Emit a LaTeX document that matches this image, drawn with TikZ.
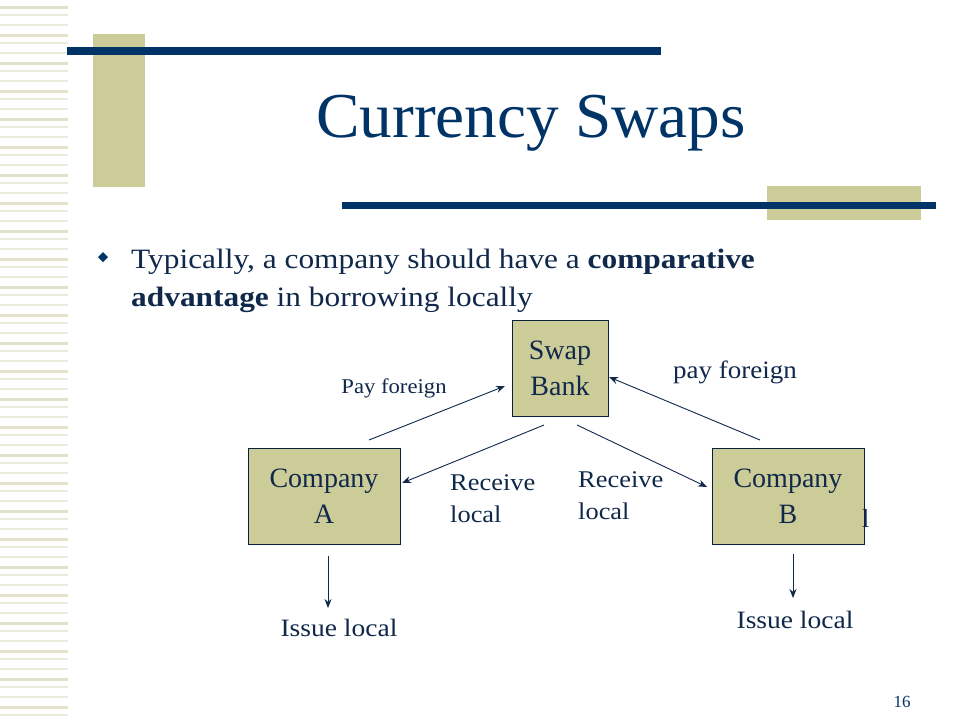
\documentclass[tikz,border=0pt]{standalone}
\usepackage{fontspec}
\setmainfont{Liberation Serif}
\usetikzlibrary{arrows.meta}
\definecolor{navy}{HTML}{003366}
\definecolor{olive}{HTML}{CCCC99}
\definecolor{ink}{HTML}{10284A}
\definecolor{stripe}{HTML}{E2E2CC}
\tikzset{
  box/.style={draw=ink!80!black, line width=0.8pt, fill=olive, minimum width=152pt, minimum height=96pt, inner sep=0pt, align=center, font=\fontsize{28}{36}\selectfont, text=ink},
  conn/.style={draw=ink, line width=0.9pt, -{Stealth[length=9pt,width=7pt]}},
  lbl/.style={text=ink, align=left, inner sep=0pt}
}
\begin{document}
\begin{tikzpicture}[x=1pt,y=-1pt]
\useasboundingbox (0,0) rectangle (960,720);
\fill[white] (0,0) rectangle (960,720);
\foreach \y in {6,34,62,90,118,146,174,202,230,258,286,314,342,370,398,426,454,482,510,538,566,594,622,650,678,706}{
  \fill[stripe] (0,\y) rectangle (68,\y+3);
  \fill[stripe!70] (0,\y+8) rectangle (68,\y+9.5);
  \fill[stripe!70] (0,\y+18) rectangle (68,\y+19.5);
}
\fill[olive] (93,34) rectangle (145,187);
\fill[navy] (67,47) rectangle (661,55);
\fill[olive] (767,186) rectangle (921,220);
\fill[navy] (342,202) rectangle (936,209);
\node[text=navy, font=\fontsize{64}{70}\selectfont, inner sep=0pt, xscale=1.02] (title) at (531,123) {Currency Swaps};
\fill[navy] (103,252) -- (108,257) -- (103,262) -- (98,257) -- cycle;
\node[lbl, anchor=base west, font=\fontsize{28}{32}\selectfont, xscale=1.12] (b1) at (131,268) {Typically, a company should have a \textbf{comparative}};
\node[lbl, anchor=base west, font=\fontsize{28}{32}\selectfont, xscale=1.12] (b2) at (131,306) {\textbf{advantage} in borrowing locally};
\node[box, minimum width=96pt] (bank) at (560,368) {Swap\\Bank};
\node[box] (ca) at (324,496) {Company\\A};
\node[box] (cb) at (788,496) {Company\\B};
\node[lbl, anchor=west, font=\fontsize{26}{30}\selectfont] (rem) at (862,518) {l};
\coordinate (a1) at (369,440); \coordinate (a2) at (505,386);
\coordinate (r1) at (544,425); \coordinate (r2) at (402,483);
\coordinate (s1) at (577,425); \coordinate (s2) at (707,487);
\coordinate (p1) at (760,440); \coordinate (p2) at (609,377);
\coordinate (ia1) at (328,556); \coordinate (ia2) at (328,608);
\coordinate (ib1) at (793,554); \coordinate (ib2) at (793,598);
\draw[conn] (a1) -- (a2);
\draw[conn] (r1) -- (r2);
\draw[conn] (s1) -- (s2);
\draw[conn] (p1) -- (p2);
\draw[conn] (ia1) -- (ia2);
\draw[conn] (ib1) -- (ib2);
\node[lbl, font=\fontsize{21}{24}\selectfont, xscale=1.08] (l1) at (394,388) {Pay foreign};
\node[lbl, font=\fontsize{25}{28}\selectfont, xscale=1.08] (l2) at (735,372) {pay foreign};
\node[lbl, anchor=north west, font=\fontsize{24}{32}\selectfont, xscale=1.1] (l3) at (450,474) {Receive\\local};
\node[lbl, anchor=north west, font=\fontsize{24}{32}\selectfont, xscale=1.1] (l4) at (578,471) {Receive\\local};
\node[lbl, font=\fontsize{25}{28}\selectfont, xscale=1.1] (l5) at (339,628) {Issue local};
\node[lbl, font=\fontsize{25}{28}\selectfont, xscale=1.1] (l6) at (795,620) {Issue local};
\node[lbl, text=navy, font=\fontsize{17}{20}\selectfont] (pg) at (902,702) {16};
\end{tikzpicture}
\end{document}
